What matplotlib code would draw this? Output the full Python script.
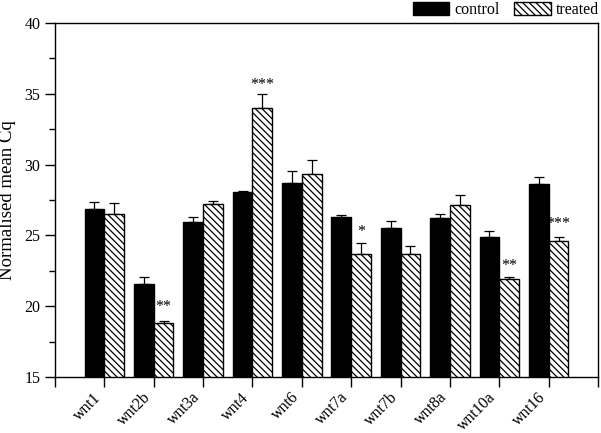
import numpy as np
import matplotlib
matplotlib.use('Agg')
import matplotlib.pyplot as plt
from matplotlib.ticker import MultipleLocator

plt.rcParams['font.family'] = ['Liberation Serif', 'DejaVu Serif']
plt.rcParams['hatch.linewidth'] = 0.9

# 数据
genes = ['wnt1', 'wnt2b', 'wnt3a', 'wnt4', 'wnt6', 'wnt7a', 'wnt7b', 'wnt8a', 'wnt10a', 'wnt16']
control = [26.86, 21.59, 25.95, 28.04, 28.72, 26.30, 25.52, 26.21, 24.91, 28.66]
control_err = [0.52, 0.49, 0.33, 0.07, 0.81, 0.16, 0.52, 0.30, 0.38, 0.48]
treated = [26.49, 18.81, 27.22, 34.02, 29.34, 23.69, 23.66, 27.12, 21.90, 24.60]
treated_err = [0.78, 0.17, 0.23, 0.94, 0.96, 0.77, 0.61, 0.73, 0.14, 0.31]
stars = ['', '**', '', '***', '', '*', '', '', '**', '***']
star_y = [0, 19.95, 0, 35.6, 0, 25.25, 0, 0, 22.85, 25.8]

fig = plt.figure(figsize=(6.01, 4.33), dpi=100)
ax = fig.add_axes([0.0915, 0.1293, 0.9035, 0.8177])

x = np.arange(1, len(genes) + 1)
w = 0.4

ax.bar(x - w / 2, control, w, color='black', edgecolor='black', linewidth=1, label='control', zorder=2)
ax.bar(x + w / 2, treated, w, color='white', edgecolor='black', linewidth=1, hatch='\\\\\\\\\\', label='treated', zorder=2)

zeros = np.zeros(len(genes))
ax.errorbar(x - w / 2, control, yerr=[zeros, control_err], fmt='none', ecolor='black', elinewidth=0.9, capsize=3.5, capthick=0.9, zorder=1)
ax.errorbar(x + w / 2, treated, yerr=[zeros, treated_err], fmt='none', ecolor='black', elinewidth=0.9, capsize=3.5, capthick=0.9, zorder=1)

for xi, s, sy in zip(x, stars, star_y):
    if s:
        ax.text(xi + w / 2, sy, s, ha='center', va='center', fontsize=11.5)

ax.set_xlim(0, 11)
ax.set_ylim(15, 40)
ax.set_xticks(np.arange(0, 12))
ax.set_xticklabels([''] + genes + [''], rotation=45, ha='right')
ax.yaxis.set_major_locator(MultipleLocator(5))
ax.yaxis.set_minor_locator(MultipleLocator(2.5))
ax.tick_params(axis='both', which='major', direction='out', length=7, width=1, labelsize=11.5)
ax.tick_params(axis='y', which='minor', direction='out', length=4, width=1)
ax.tick_params(axis='x', which='major', labelsize=11.5, pad=2)
for sp in ax.spines.values():
    sp.set_linewidth(1)

ax.set_ylabel('Normalised mean Cq', fontsize=13.5, labelpad=6)

fig.legend(loc='upper right', bbox_to_anchor=(1.0, 1.0), ncol=2, frameon=False, fontsize=11.5,
           handlelength=2.3, handleheight=0.85, handletextpad=0.3, columnspacing=0.9,
           borderaxespad=0, borderpad=0.15)

plt.savefig('out.png', dpi=100)
